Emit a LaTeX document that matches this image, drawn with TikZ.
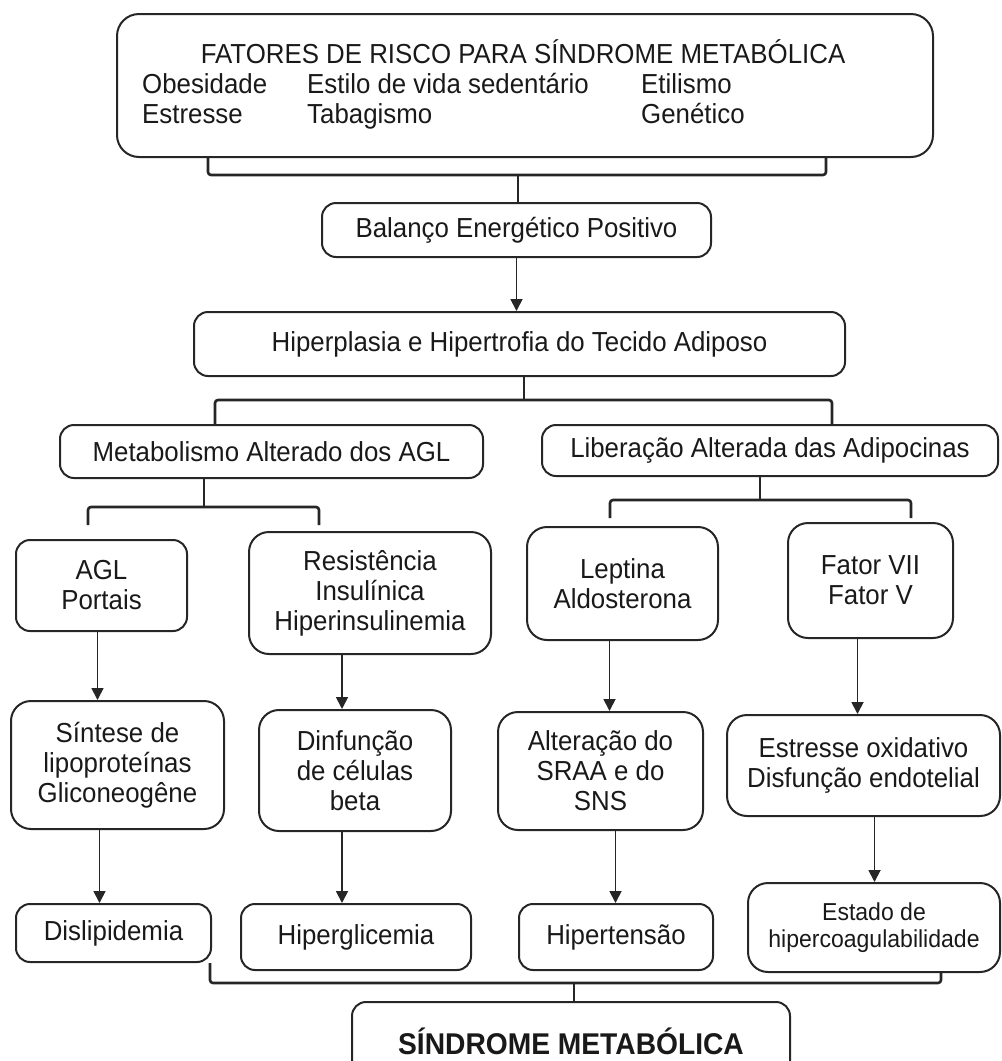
\documentclass[tikz,border=0pt]{standalone}
\usepackage{fontspec}
\setmainfont{Liberation Sans}[FakeStretch=0.94]
\usetikzlibrary{arrows.meta}

\begin{document}
\begin{tikzpicture}[
    x=1pt, y=-1pt,
    every node/.style={font=\fontsize{27.5}{30}\selectfont, text=black!90},
    box/.style={rectangle, draw=black!85, line width=2pt, rounded corners=14pt,
                align=center, inner sep=0pt},
    tallbox/.style={box, rounded corners=20pt},
    txt/.style={anchor=base west, inner sep=0pt},
    arr/.style={-{Triangle[length=12pt, width=12pt]}, line width=1.8pt, draw=black!85},
    brk/.style={line width=2.6pt, draw=black!85, rounded corners=3pt}
]
\useasboundingbox (0,0) rectangle (1002,1061);

% Risk factors
\node[box, rounded corners=22pt, minimum width=816pt, minimum height=143pt] (risco) at (525,85.5) {};
\node[anchor=base, inner sep=0pt] (titulo) at (523,63) {FATORES DE RISCO PARA SÍNDROME METABÓLICA};
\node[txt] (obesidade) at (142,93)  {Obesidade};
\node[txt] (estilo)    at (307,93)  {Estilo de vida sedentário};
\node[txt] (etilismo)  at (641,93)  {Etilismo};
\node[txt] (estresse)  at (142,123) {Estresse};
\node[txt] (tabagismo) at (307,123) {Tabagismo};
\node[txt] (genetico)  at (641,123) {Genético};

% Central column
\node[box, minimum width=389pt, minimum height=54pt] (balanco) at (516.5,230) {Balanço Energético Positivo};
\node[box, minimum width=651pt, minimum height=64pt] (hiper) at (519.5,344) {Hiperplasia e Hipertrofia do Tecido Adiposo};

% Two branches
\node[box, minimum width=423pt, minimum height=53pt] (metab) at (271.5,451.5) {Metabolismo Alterado dos AGL};
\node[box, minimum width=456pt, minimum height=51pt] (adipo) at (770,450.5) {Liberação Alterada das Adipocinas};

% Mediators
\node[box, minimum width=171pt, minimum height=91pt]      (agl)     at (101.5,585.5) {AGL\\Portais};
\node[tallbox, minimum width=242pt, minimum height=122pt] (resist)  at (370,593)     {Resistência\\Insulínica\\Hiperinsulinemia};
\node[tallbox, minimum width=191pt, minimum height=113pt] (leptina) at (622.5,583.5) {Leptina\\Aldosterona};
\node[tallbox, minimum width=165pt, minimum height=115pt] (fator)   at (870.5,580.5) {Fator VII\\Fator V};

% Mechanisms
\node[tallbox, minimum width=213pt, minimum height=128pt] (sintese) at (117.5,765)   {Síntese de\\lipoproteínas\\Gliconeogêne};
\node[tallbox, minimum width=192pt, minimum height=121pt] (disfun)  at (355,770.5)   {Dinfunção\\de células\\beta};
\node[tallbox, minimum width=205pt, minimum height=118pt] (alter)   at (600.5,771)   {Alteração do\\SRAA e do\\SNS};
\node[tallbox, minimum width=273pt, minimum height=101pt] (oxid)    at (863.5,765.5) {Estresse oxidativo\\Disfunção endotelial};

% Outcomes
\node[box, minimum width=195pt, minimum height=58pt] (dislip) at (113.5,933) {Dislipidemia};
\node[box, minimum width=230pt, minimum height=66pt] (hglic)  at (356,937)   {Hiperglicemia};
\node[box, minimum width=194pt, minimum height=66pt] (htens)  at (616,937)   {Hipertensão};
\node[tallbox, minimum width=252pt, minimum height=89pt, font=\fontsize{24.5}{27}\selectfont]
    (estado) at (874,927.5) {Estado de\\hipercoagulabilidade};

% Result
\node[box, minimum width=438pt, minimum height=78pt, font=\fontsize{30}{32}\selectfont\bfseries]
    (sindrome) at (571,1041) {SÍNDROME METABÓLICA};

% Bracket junctions
\coordinate (j1) at (518,175);
\coordinate (j2) at (524,400);
\coordinate (j3) at (204,507);
\coordinate (j4) at (760,500);
\coordinate (j5) at (574,983);
\coordinate (b3l) at (88,525);
\coordinate (b3r) at (319,525);
\coordinate (b4l) at (610,518);
\coordinate (b4r) at (911,518);

% Brackets
\draw[brk] ([xshift=92pt]risco.south west) |- (j1) -| ([xshift=-108pt]risco.south east);
\draw[brk] (j1) -- (j1 |- balanco.north);
\draw[brk] (j2 |- hiper.south) -- (j2);
\draw[brk] ([xshift=156pt]metab.north west) |- (j2) -| ([xshift=291pt]adipo.north west);
\draw[brk] (j3 |- metab.south) -- (j3);
\draw[brk] (b3l) |- (j3) -| (b3r);
\draw[brk] (j4 |- adipo.south) -- (j4);
\draw[brk] (b4l) |- (j4) -| (b4r);
\draw[brk] ([xshift=-2pt]dislip.south east) |- (j5) -| ([xshift=67pt]estado.south);
\draw[brk] (j5) -- (j5 |- sindrome.north);

% Arrows
\draw[arr] (balanco.south) -- (balanco.south |- hiper.north);
\draw[arr] ([xshift=-4pt]agl.south)      -- ([xshift=-4pt]agl.south |- sintese.north);
\draw[arr] ([xshift=-28pt]resist.south)  -- ([xshift=-28pt]resist.south |- disfun.north);
\draw[arr] ([xshift=-13pt]leptina.south) -- ([xshift=-13pt]leptina.south |- alter.north);
\draw[arr] ([xshift=-13pt]fator.south)   -- ([xshift=-13pt]fator.south |- oxid.north);
\draw[arr] ([xshift=-18pt]sintese.south) -- ([xshift=-18pt]sintese.south |- dislip.north);
\draw[arr] ([xshift=-13pt]disfun.south)  -- ([xshift=-13pt]disfun.south |- hglic.north);
\draw[arr] ([xshift=15pt]alter.south)    -- ([xshift=15pt]alter.south |- htens.north);
\draw[arr] ([xshift=11pt]oxid.south)     -- ([xshift=11pt]oxid.south |- estado.north);
\end{tikzpicture}
\end{document}
